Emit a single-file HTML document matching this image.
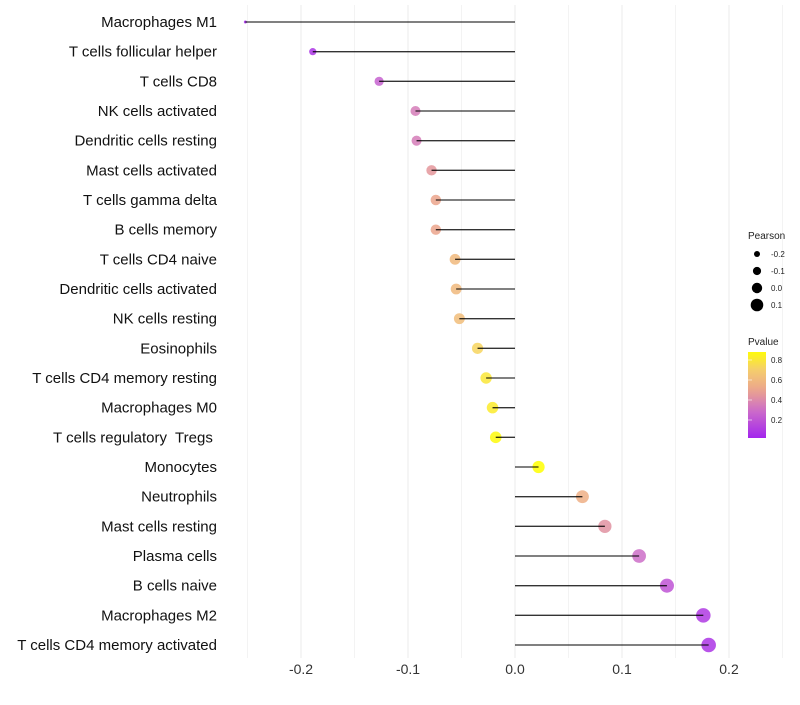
<!DOCTYPE html>
<html><head><meta charset="utf-8"><style>
body{margin:0;background:#fff;font-family:"Liberation Sans",sans-serif}
svg text{font-family:"Liberation Sans",sans-serif;white-space:pre}
</style></head><body>
<svg id="chart" width="800" height="700"></svg>
<script>
const categories=["Macrophages M1","T cells follicular helper","T cells CD8","NK cells activated","Dendritic cells resting","Mast cells activated","T cells gamma delta","B cells memory","T cells CD4 naive","Dendritic cells activated","NK cells resting","Eosinophils","T cells CD4 memory resting","Macrophages M0","T cells regulatory  Tregs ","Monocytes","Neutrophils","Mast cells resting","Plasma cells","B cells naive","Macrophages M2","T cells CD4 memory activated"];
const pearson=[-0.252,-0.189,-0.127,-0.093,-0.092,-0.078,-0.074,-0.074,-0.056,-0.055,-0.052,-0.035,-0.027,-0.021,-0.018,0.022,0.063,0.084,0.116,0.142,0.176,0.181];
const pvalue=[0.03,0.08,0.25,0.35,0.35,0.45,0.5,0.5,0.6,0.6,0.62,0.73,0.8,0.82,0.88,0.9,0.55,0.43,0.3,0.2,0.1,0.08];
const xTicks=[-0.2,-0.1,0.0,0.1,0.2];
const xTickLabels=["-0.2","-0.1","0.0","0.1","0.2"];
const sizeLegend=[-0.2,-0.1,0.0,0.1];
const colorTicks=[0.2,0.4,0.6,0.8];

const NS="http://www.w3.org/2000/svg";
const svg=document.getElementById('chart');
function mk(t,a,p){const e=document.createElementNS(NS,t);for(const k in a)e.setAttribute(k,a[k]);(p||svg).appendChild(e);return e;}
const x=v=>515+v*1070;
const y=i=>22+i*(623/21);
const pmin=Math.min(...pearson),pmax=Math.max(...pearson);
const r=v=>{const t=Math.max(0,(v-pmin)/(pmax-pmin));return Math.sqrt(2.25+51*Math.pow(t,0.8));};
function lerp(a,b,t){return a.map((c,i)=>Math.round(c+(b[i]-c)*t));}
function col(p){
  const stops=[[0,[160,32,240]],[0.3,[205,110,200]],[0.5,[235,165,140]],[0.7,[245,205,110]],[0.9,[255,255,0]]];
  if(p<=0)return 'rgb(160,32,240)';if(p>=0.9)return 'rgb(255,255,0)';
  for(let i=0;i<stops.length-1;i++){if(p<=stops[i+1][0]){const c=lerp(stops[i][1],stops[i+1][1],(p-stops[i][0])/(stops[i+1][0]-stops[i][0]));return `rgb(${c})`;}}
}
for(let v=-0.25;v<=0.251;v+=0.05){
  const g=mk('line',{x1:x(v),x2:x(v),y1:5,y2:658,stroke:'#ebebeb','stroke-width':Math.abs(Math.round(v*10)-v*10)<0.01?1:0.6});
  
  
}
xTicks.forEach((v,i)=>{
  const t=mk('text',{x:x(v),y:674,'text-anchor':'middle','font-size':14,fill:'#333'});
  t.textContent=xTickLabels[i];
  
  
});
categories.forEach((c,i)=>{
  const t=mk('text',{x:217,y:y(i)+5,'text-anchor':'end','font-size':15,fill:'#111'});
  t.textContent=c;
  
  
  const d=mk('circle',{cx:x(pearson[i]),cy:y(i),r:r(pearson[i]),fill:col(pvalue[i]),'fill-opacity':0.85});
  
  
  const l=mk('line',{x1:x(0),x2:x(pearson[i]),y1:y(i),y2:y(i),stroke:'#000','stroke-width':1.3,'stroke-opacity':0.8});
  
  
});
const lt=mk('text',{x:748,y:239,'font-size':10,fill:'#222'});lt.textContent='Pearson';


sizeLegend.forEach((v,i)=>{
  const cy=254+i*17;
  const c=mk('circle',{cx:757,cy:cy,r:3+i*1.1,fill:'#000'});
  
  
  const t=mk('text',{x:771,y:cy+3,'font-size':8,fill:'#222'});t.textContent=v.toFixed(1);
  
  
});
const ct=mk('text',{x:748,y:345,'font-size':10,fill:'#222'});ct.textContent='Pvalue';


const defs=mk('defs',{});
const grad=mk('linearGradient',{id:'pg',x1:0,y1:1,x2:0,y2:0},defs);
for(let k=0;k<=10;k++){const p=0.02+k*0.086;mk('stop',{offset:k/10,'stop-color':col(p)},grad);}
const cb=mk('rect',{x:748,y:352,width:18,height:86,fill:'url(#pg)'});


const cy=p=>438-(p-0.02)*100;
colorTicks.forEach(p=>{
  const tk=mk('line',{x1:748,x2:752,y1:cy(p),y2:cy(p),stroke:'#fff','stroke-width':0.6});
  
  
  const t=mk('text',{x:771,y:cy(p)+3,'font-size':8,fill:'#222'});t.textContent=p.toFixed(1);
  
  
});
</script>
</body></html>
